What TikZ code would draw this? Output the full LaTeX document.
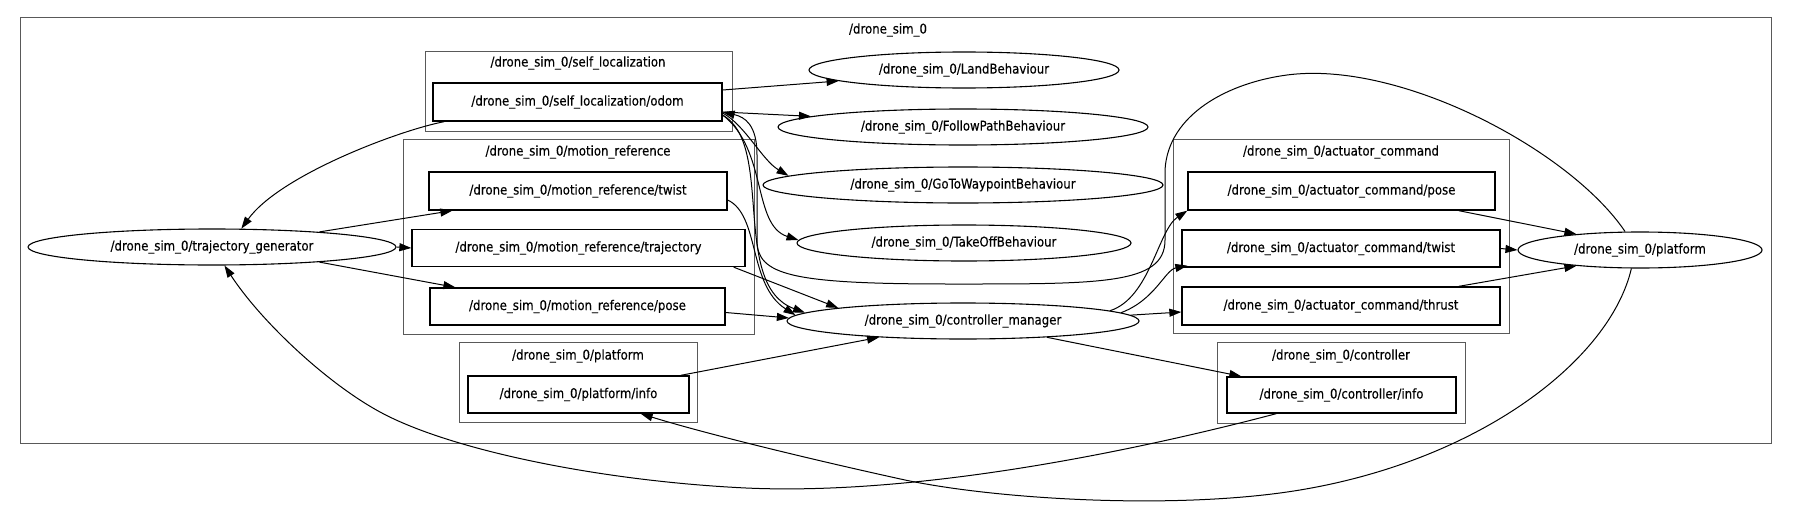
\documentclass[tikz,border=0pt]{standalone}
\usepackage{fontspec}
\setmainfont{DejaVu Sans}[FakeStretch=0.87,FakeBold=0.3]
\usetikzlibrary{arrows.meta,shapes.geometric}

\tikzset{
  topic/.style={draw, line width=1.3pt, rectangle, minimum height=38pt, inner sep=0pt},
  rosnode/.style={draw, line width=1.1pt, ellipse, minimum height=36pt, inner sep=0pt},
  cluster/.style={draw=black!65, line width=1pt},
  edge/.style={line width=1pt, -{Triangle[length=12pt,width=8pt]}},
}

\begin{document}
\begin{tikzpicture}[x=1pt,y=-1pt,font=\fontsize{13.5pt}{16pt}\selectfont]
\useasboundingbox (0,0) rectangle (1794,522);
% clusters
\draw[cluster] (20,17) rectangle (1771,443);
\node (tmain) at (888,30) {/drone\_sim\_0};
\draw[cluster] (425,51) rectangle (732,131);
\node (tselfloc) at (578,63) {/drone\_sim\_0/self\_localization};
\draw[cluster] (403,139) rectangle (754,334);
\node (tmotion) at (578,152) {/drone\_sim\_0/motion\_reference};
\draw[cluster] (459,342) rectangle (697,422);
\node (tplatform) at (578,356) {/drone\_sim\_0/platform};
\draw[cluster] (1173,139) rectangle (1509,333);
\node (tactuator) at (1341,152) {/drone\_sim\_0/actuator\_command};
\draw[cluster] (1217,342) rectangle (1465,423);
\node (tcontroller) at (1341,356) {/drone\_sim\_0/controller};

% topics
\node[topic, minimum width=289pt] (odom) at (577.5,102) {/drone\_sim\_0/self\_localization/odom};
\node[topic, minimum width=298pt] (mrtwist) at (578,191) {/drone\_sim\_0/motion\_reference/twist};
\node[topic, minimum width=333pt, minimum height=37pt] (mrtraj) at (578.5,248) {/drone\_sim\_0/motion\_reference/trajectory};
\node[topic, minimum width=295pt, minimum height=37pt] (mrpose) at (577.5,306.5) {/drone\_sim\_0/motion\_reference/pose};
\node[topic, minimum width=221pt, minimum height=37pt] (platinfo) at (578.5,394.5) {/drone\_sim\_0/platform/info};
\node[topic, minimum width=307pt] (acpose) at (1341.5,191) {/drone\_sim\_0/actuator\_command/pose};
\node[topic, minimum width=318pt, minimum height=37pt] (actwist) at (1341,248.5) {/drone\_sim\_0/actuator\_command/twist};
\node[topic, minimum width=318pt] (acthrust) at (1341,306) {/drone\_sim\_0/actuator\_command/thrust};
\node[topic, minimum width=229pt, minimum height=36pt] (ctrlinfo) at (1341.5,395) {/drone\_sim\_0/controller/info};

% nodes
\node[rosnode, minimum width=368pt] (traj) at (212,247) {/drone\_sim\_0/trajectory\_generator};
\node[rosnode, minimum width=310pt] (land) at (964,70) {/drone\_sim\_0/LandBehaviour};
\node[rosnode, minimum width=370pt] (follow) at (963,127) {/drone\_sim\_0/FollowPathBehaviour};
\node[rosnode, minimum width=400pt] (goto) at (963,185) {/drone\_sim\_0/GoToWaypointBehaviour};
\node[rosnode, minimum width=334pt] (takeoff) at (964,243) {/drone\_sim\_0/TakeOffBehaviour};
\node[rosnode, minimum width=352pt] (cm) at (963,321) {/drone\_sim\_0/controller\_manager};
\node[rosnode, minimum width=244pt] (plat) at (1640,250) {/drone\_sim\_0/platform};

% edges
\draw[edge] ([yshift=12pt]odom.east) -- (land.185);
\draw[edge] ([yshift=-10pt]odom.east) -- (follow.176);
\draw[edge] ([yshift=-11pt]odom.east) .. controls (745,125) and (762,160) .. (goto.177);
\draw[edge] ([yshift=-13pt]odom.east) .. controls (768,150) and (752,225) .. (takeoff.179);
\draw[edge] ([yshift=-13pt]odom.east) .. controls (775,145) and (730,285) .. (cm.177);
\draw[edge] ([xshift=12pt]odom.south west) .. controls (400,130) and (280,175) .. (traj.32);
\draw[edge] (plat.129) .. controls (1570,150) and (1400,60) .. (1287,75)
  .. controls (1227,83) and (1168,115) .. (1165,170) -- (1165,240)
  .. controls (1165,285) and (1100,284) .. (950,284)
  .. controls (790,284) and (757,275) .. (757,240) -- (757,155)
  .. controls (757,125) and (745,117) .. ([yshift=-10pt]odom.east);
\draw[edge] (traj.8) -- ([xshift=24pt]mrtwist.south west);
\draw[edge] (traj.east) -- (mrtraj.west);
\draw[edge] (traj.-8) -- ([xshift=26pt]mrpose.north west);
\draw[edge] ([yshift=-9pt]mrtwist.east) .. controls (760,215) and (748,285) .. (cm.178);
\draw[edge] ([xshift=-12pt]mrtraj.south east) -- (cm.174);
\draw[edge] ([yshift=-6pt]mrpose.east) -- (cm.179);
\draw[edge] ([xshift=-9pt]platinfo.north east) -- (cm.191);
\draw[edge] (cm.4) .. controls (1150,298) and (1158,230) .. (acpose.south west);
\draw[edge] (cm.3) .. controls (1155,300) and (1165,270) .. ([xshift=6pt,yshift=2pt]actwist.south west);
\draw[edge] (cm.2) -- ([yshift=-6pt]acthrust.west);
\draw[edge] (cm.-11) -- ([xshift=15pt]ctrlinfo.north west);
\draw[edge] ([xshift=-37pt]acpose.south east) -- (plat.166);
\draw[edge] (actwist.east) -- (plat.west);
\draw[edge] ([xshift=-42pt]acthrust.north east) -- (plat.194);
\draw[edge] ([xshift=50pt]ctrlinfo.south west) .. controls (1100,460) and (900,495) .. (746,488)
  .. controls (600,481) and (450,450) .. (380,412)
  .. controls (325,382) and (260,320) .. (traj.-56);
\draw[edge] (plat.245) .. controls (1610,360) and (1480,460) .. (1300,490)
  .. controls (1180,510) and (1000,500) .. (905,480)
  .. controls (800,457) and (700,432) .. ([xshift=-49pt]platinfo.south east);
\end{tikzpicture}
\end{document}
